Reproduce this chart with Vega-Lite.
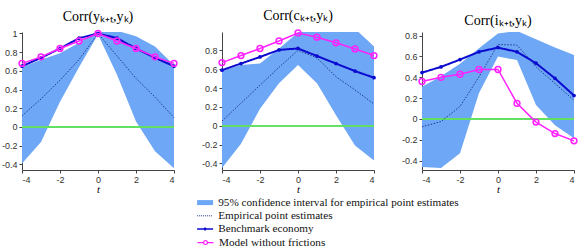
{
  "$schema": "https://vega.github.io/schema/vega-lite/v6.json",
  "padding": {"left": 1, "top": 9, "right": 5, "bottom": 0},
  "bounds": "flush",
  "spacing": 48,
  "config": {
    "view": {"stroke": null},
    "axis": {"grid": false, "domainColor": "#444", "tickColor": "#444", "labelColor": "#333", "labelFontSize": 9, "tickSize": 3, "labelPadding": 2},
    "legend": {"labelFont": "Liberation Serif", "labelFontSize": 11.2, "labelColor": "#111", "labelLimit": 400, "symbolSize": 100, "labelOffset": 7.5, "padding": 0, "orient": "none"},
    "title": {"font": "Liberation Serif", "fontSize": 14, "fontWeight": "normal", "color": "#000", "offset": 4}
  },
  "datasets": {
    "d": [
      {"p": "y", "t": -4, "lo": -0.39, "hi": 0.64, "emp": 0.12, "bench": 0.65, "model": 0.68},
      {"p": "y", "t": -3, "lo": -0.16, "hi": 0.72, "emp": 0.30, "bench": 0.74, "model": 0.75},
      {"p": "y", "t": -2, "lo": 0.27, "hi": 0.79, "emp": 0.50, "bench": 0.84, "model": 0.84},
      {"p": "y", "t": -1, "lo": 0.64, "hi": 0.90, "emp": 0.72, "bench": 0.95, "model": 0.92},
      {"p": "y", "t": 0, "lo": 0.99, "hi": 1.03, "emp": 1.0, "bench": 1.0, "model": 1.0},
      {"p": "y", "t": 1, "lo": 0.56, "hi": 1.03, "emp": 0.76, "bench": 0.95, "model": 0.92},
      {"p": "y", "t": 2, "lo": 0.06, "hi": 0.97, "emp": 0.52, "bench": 0.84, "model": 0.84},
      {"p": "y", "t": 3, "lo": -0.26, "hi": 0.86, "emp": 0.32, "bench": 0.74, "model": 0.75},
      {"p": "y", "t": 4, "lo": -0.44, "hi": 0.66, "emp": 0.10, "bench": 0.65, "model": 0.68},
      {"p": "c", "t": -4, "lo": -0.45, "hi": 0.58, "emp": 0.05, "bench": 0.59, "model": 0.67},
      {"p": "c", "t": -3, "lo": -0.19, "hi": 0.645, "emp": 0.24, "bench": 0.66, "model": 0.745},
      {"p": "c", "t": -2, "lo": 0.18, "hi": 0.66, "emp": 0.43, "bench": 0.73, "model": 0.82},
      {"p": "c", "t": -1, "lo": 0.45, "hi": 0.82, "emp": 0.62, "bench": 0.805, "model": 0.90},
      {"p": "c", "t": 0, "lo": 0.645, "hi": 0.99, "emp": 0.80, "bench": 0.82, "model": 0.985},
      {"p": "c", "t": 1, "lo": 0.45, "hi": 1.03, "emp": 0.72, "bench": 0.74, "model": 0.94},
      {"p": "c", "t": 2, "lo": 0.11, "hi": 1.03, "emp": 0.52, "bench": 0.66, "model": 0.88},
      {"p": "c", "t": 3, "lo": -0.21, "hi": 1.03, "emp": 0.38, "bench": 0.58, "model": 0.815},
      {"p": "c", "t": 4, "lo": -0.37, "hi": 0.84, "emp": 0.23, "bench": 0.51, "model": 0.745},
      {"p": "i", "t": -4, "lo": -0.46, "hi": 0.31, "emp": -0.075, "bench": 0.445, "model": 0.36},
      {"p": "i", "t": -3, "lo": -0.47, "hi": 0.41, "emp": -0.025, "bench": 0.50, "model": 0.40},
      {"p": "i", "t": -2, "lo": -0.33, "hi": 0.53, "emp": 0.12, "bench": 0.57, "model": 0.43},
      {"p": "i", "t": -1, "lo": 0.25, "hi": 0.68, "emp": 0.405, "bench": 0.645, "model": 0.475},
      {"p": "i", "t": 0, "lo": 0.60, "hi": 0.82, "emp": 0.715, "bench": 0.685, "model": 0.475},
      {"p": "i", "t": 1, "lo": 0.565, "hi": 0.845, "emp": 0.71, "bench": 0.645, "model": 0.15},
      {"p": "i", "t": 2, "lo": 0.135, "hi": 0.765, "emp": 0.50, "bench": 0.535, "model": -0.03},
      {"p": "i", "t": 3, "lo": -0.06, "hi": 0.685, "emp": 0.34, "bench": 0.39, "model": -0.14},
      {"p": "i", "t": 4, "lo": -0.185, "hi": 0.615, "emp": 0.18, "bench": 0.225, "model": -0.21}
    ]
  },
  "data": {"name": "d"},
  "resolve": {
    "scale": {"x": "independent", "y": "independent", "fill": "shared", "stroke": "shared", "strokeDash": "shared", "opacity": "shared"},
    "legend": {"fill": "shared", "stroke": "shared", "strokeDash": "shared", "opacity": "shared"}
  },
  "hconcat": [
    {
      "width": 152, "height": 138,
      "title": "Corr(yₖ₊ₜ,yₖ)",
      "transform": [{"filter": "datum.p === 'y'"}],
      "encoding": {
        "x": {"field": "t", "type": "quantitative", "scale": {"domain": [-4, 4]}, "axis": {"values": [-4, -2, 0, 2, 4], "labelOverlap": false, "title": "t", "titleFont": "Liberation Serif", "titleFontStyle": "italic", "titleFontWeight": "normal", "titleFontSize": 10.5, "titlePadding": 0, "labelExpr": "replace(format(datum.value, '~g'), '−', '-')"}}
      },
      "layer": [
        {"mark": {"type": "area", "clip": true, "opacity": 1},
         "encoding": {
           "y": {"field": "lo", "type": "quantitative", "scale": {"domain": [-0.46, 1.016], "nice": false, "zero": false}, "axis": {"tickCount": 8, "labelOverlap": false, "title": null, "labelExpr": "replace(format(datum.value, '~g'), '−', '-')"}},
           "y2": {"field": "hi"},
           "fill": {"datum": "95% confidence interval for empirical point estimates", "type": "nominal", "scale": {"range": ["#6ea7f5"]},
             "legend": {"legendX": 177.5, "legendY": 165, "title": null, "symbolType": "M-1.6,-0.5H1.6V0.5H-1.6Z", "symbolStrokeWidth": 0, "symbolFillColor": "#6ea7f5"}}
         }},
        {"mark": {"type": "rule", "color": "#62e062", "strokeWidth": 1.2}, "encoding": {"x": {"datum": -4}, "x2": {"datum": 4}, "y": {"datum": 0}}},
        {"mark": {"type": "line", "strokeDash": [1.5, 1.5], "strokeWidth": 1},
         "encoding": {"y": {"field": "emp", "type": "quantitative"},
           "stroke": {"datum": "Empirical point estimates", "type": "nominal", "scale": {"range": ["#1f3d8c"]},
             "legend": {"legendX": 177.5, "legendY": 178.2, "title": null, "symbolType": "M-1.6,0H1.6", "symbolDash": [1, 1], "symbolStrokeWidth": 1, "symbolStrokeColor": "#1f3d8c"}}}},
        {"mark": {"type": "line", "strokeWidth": 2, "color": "#0b0bd0", "point": {"filled": true, "size": 14, "color": "#0b0bd0"}},
         "encoding": {"y": {"field": "bench", "type": "quantitative"},
           "strokeDash": {"datum": "Benchmark economy", "type": "nominal", "scale": {"range": [[1, 0]]},
             "legend": {"legendX": 177.5, "legendY": 191.4, "title": null, "symbolType": "M-1.6,-0.16H1.6V0.16H-1.6Z M-0.3,0A0.3,0.3 0 1,1 0.3,0A0.3,0.3 0 1,1 -0.3,0Z", "symbolStrokeWidth": 0, "symbolFillColor": "#0b0bd0"}}}},
        {"mark": {"type": "line", "strokeWidth": 1.5, "color": "#ff22ff", "point": {"filled": false, "size": 34, "strokeWidth": 1.5, "color": "#ff22ff"}},
         "encoding": {"y": {"field": "model", "type": "quantitative"},
           "opacity": {"datum": "Model without frictions", "type": "nominal", "scale": {"range": [1]},
             "legend": {"legendX": 177.5, "legendY": 204.6, "title": null, "symbolType": "M-1.6,0H-0.38M0.38,0H1.6M-0.38,0A0.38,0.38 0 1,1 0.38,0A0.38,0.38 0 1,1 -0.38,0Z", "symbolStrokeWidth": 1.2, "symbolStrokeColor": "#ff22ff", "symbolFillColor": "transparent"}}}}
      ]
    },
    {
      "width": 152, "height": 138,
      "title": "Corr(cₖ₊ₜ,yₖ)",
      "transform": [{"filter": "datum.p === 'c'"}],
      "encoding": {
        "x": {"field": "t", "type": "quantitative", "scale": {"domain": [-4, 4]}, "axis": {"values": [-4, -2, 0, 2, 4], "labelOverlap": false, "title": "t", "titleFont": "Liberation Serif", "titleFontStyle": "italic", "titleFontWeight": "normal", "titleFontSize": 10.5, "titlePadding": 0, "labelExpr": "replace(format(datum.value, '~g'), '−', '-')"}}
      },
      "layer": [
        {"mark": {"type": "area", "clip": true, "opacity": 1},
         "encoding": {
           "y": {"field": "lo", "type": "quantitative", "scale": {"domain": [-0.47, 0.995], "nice": false, "zero": false}, "axis": {"tickCount": 8, "labelOverlap": false, "title": null, "labelExpr": "replace(format(datum.value, '~g'), '−', '-')"}},
           "y2": {"field": "hi"},
           "fill": {"datum": "95% confidence interval for empirical point estimates", "type": "nominal"}
         }},
        {"mark": {"type": "rule", "color": "#62e062", "strokeWidth": 1.2}, "encoding": {"x": {"datum": -4}, "x2": {"datum": 4}, "y": {"datum": 0}}},
        {"mark": {"type": "line", "strokeDash": [1.5, 1.5], "strokeWidth": 1},
         "encoding": {"y": {"field": "emp", "type": "quantitative"}, "stroke": {"datum": "Empirical point estimates", "type": "nominal"}}},
        {"mark": {"type": "line", "strokeWidth": 2, "color": "#0b0bd0", "point": {"filled": true, "size": 14, "color": "#0b0bd0"}},
         "encoding": {"y": {"field": "bench", "type": "quantitative"}, "strokeDash": {"datum": "Benchmark economy", "type": "nominal"}}},
        {"mark": {"type": "line", "strokeWidth": 1.5, "color": "#ff22ff", "point": {"filled": false, "size": 34, "strokeWidth": 1.5, "color": "#ff22ff"}},
         "encoding": {"y": {"field": "model", "type": "quantitative"}, "opacity": {"datum": "Model without frictions", "type": "nominal"}}}
      ]
    },
    {
      "width": 152, "height": 138,
      "title": "Corr(iₖ₊ₜ,yₖ)",
      "transform": [{"filter": "datum.p === 'i'"}],
      "encoding": {
        "x": {"field": "t", "type": "quantitative", "scale": {"domain": [-4, 4]}, "axis": {"values": [-4, -2, 0, 2, 4], "labelOverlap": false, "title": "t", "titleFont": "Liberation Serif", "titleFontStyle": "italic", "titleFontWeight": "normal", "titleFontSize": 10.5, "titlePadding": 0, "labelExpr": "replace(format(datum.value, '~g'), '−', '-')"}}
      },
      "layer": [
        {"mark": {"type": "area", "clip": true, "opacity": 1},
         "encoding": {
           "y": {"field": "lo", "type": "quantitative", "scale": {"domain": [-0.49, 0.835], "nice": false, "zero": false}, "axis": {"tickCount": 8, "labelOverlap": false, "title": null, "labelExpr": "replace(format(datum.value, '~g'), '−', '-')"}},
           "y2": {"field": "hi"},
           "fill": {"datum": "95% confidence interval for empirical point estimates", "type": "nominal"}
         }},
        {"mark": {"type": "rule", "color": "#62e062", "strokeWidth": 1.2}, "encoding": {"x": {"datum": -4}, "x2": {"datum": 4}, "y": {"datum": 0}}},
        {"mark": {"type": "line", "strokeDash": [1.5, 1.5], "strokeWidth": 1},
         "encoding": {"y": {"field": "emp", "type": "quantitative"}, "stroke": {"datum": "Empirical point estimates", "type": "nominal"}}},
        {"mark": {"type": "line", "strokeWidth": 2, "color": "#0b0bd0", "point": {"filled": true, "size": 14, "color": "#0b0bd0"}},
         "encoding": {"y": {"field": "bench", "type": "quantitative"}, "strokeDash": {"datum": "Benchmark economy", "type": "nominal"}}},
        {"mark": {"type": "line", "strokeWidth": 1.5, "color": "#ff22ff", "point": {"filled": false, "size": 34, "strokeWidth": 1.5, "color": "#ff22ff"}},
         "encoding": {"y": {"field": "model", "type": "quantitative"}, "opacity": {"datum": "Model without frictions", "type": "nominal"}}}
      ]
    }
  ]
}
